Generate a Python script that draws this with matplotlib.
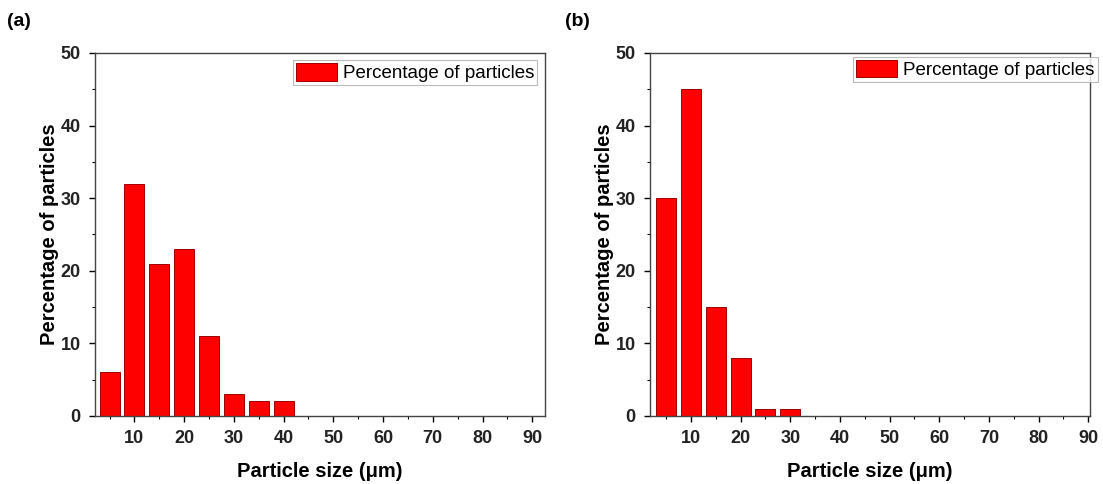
import matplotlib.pyplot as plt
from matplotlib.ticker import MultipleLocator

plt.rcParams['font.family'] = ['Liberation Sans', 'DejaVu Sans']

# particle size bins (um) and percentage of particles
sizes_a = [5, 10, 15, 20, 25, 30, 35, 40]
percent_a = [6, 32, 21, 23, 11, 3, 2, 2]

sizes_b = [5, 10, 15, 20, 25, 30]
percent_b = [30, 45, 15, 8, 1, 1]

xticks = [10, 20, 30, 40, 50, 60, 70, 80, 90]
yticks = [0, 10, 20, 30, 40, 50]


def draw_panel(ax, sizes, percent, xlim, label, label_x, leg_anchor):
    ax.bar(sizes, percent, width=4, color='#ff0000', edgecolor='#a00000',
           linewidth=0.7, label='Percentage of particles')
    ax.set_xlim(*xlim)
    ax.set_ylim(0, 50)
    ax.set_xticks(xticks)
    ax.set_yticks(yticks)
    ax.xaxis.set_minor_locator(MultipleLocator(5))
    ax.yaxis.set_minor_locator(MultipleLocator(5))
    ax.tick_params(which='major', direction='out', length=4, width=1, pad=6)
    ax.tick_params(which='minor', direction='out', length=2, width=0.8)
    for t in ax.get_xticklabels() + ax.get_yticklabels():
        t.set_fontweight('bold')
        t.set_fontsize(13)
        t.set_color('#222222')
    for s in ax.spines.values():
        s.set_color('#444444')
        s.set_linewidth(1)
    ax.set_xlabel('Particle size (\u03bcm)', fontsize=14.5, fontweight='bold', labelpad=11)
    ax.set_ylabel('Percentage of particles', fontsize=14.5, fontweight='bold', labelpad=1)
    leg = ax.legend(loc='upper right', bbox_to_anchor=leg_anchor, borderaxespad=0,
                    fontsize=13.5, frameon=True, fancybox=False,
                    borderpad=0.16, handlelength=2.2, handleheight=1.07,
                    handletextpad=0.33)
    leg.get_frame().set_edgecolor('#aaaaaa')
    leg.get_frame().set_linewidth(0.8)
    fig.text(label_x, 0.955, label, fontsize=14, fontweight='bold', va='center')


fig = plt.figure(figsize=(11.03, 4.84), dpi=100)
ax_a = fig.add_axes([0.0858, 0.1405, 0.408, 0.75])
ax_b = fig.add_axes([0.589, 0.1405, 0.399, 0.75])

draw_panel(ax_a, sizes_a, percent_a, (2, 92.5), '(a)', 0.006, (0.984, 0.981))
draw_panel(ax_b, sizes_b, percent_b, (1.7, 90.3), '(b)', 0.512, (1.018, 0.99))

fig.savefig('out.png', dpi=100)
